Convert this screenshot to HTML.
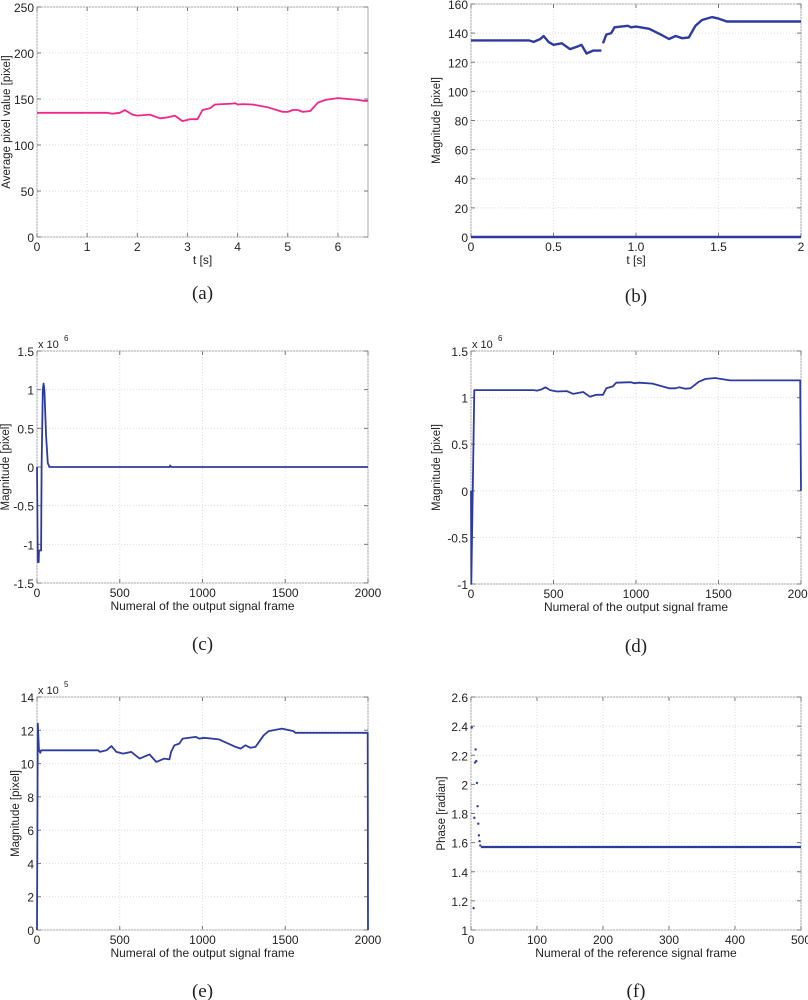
<!DOCTYPE html>
<html><head><meta charset="utf-8"><style>
body{margin:0;background:#fff;width:808px;height:1000px;overflow:hidden}
svg{display:block}
text{font-family:"Liberation Sans","IPAGothic",sans-serif;fill:#222}
.tk{font-size:12px}
.cap{font-family:"Liberation Serif",serif;font-size:19px}
</style></head><body>
<svg id="fig" width="808" height="1000"></svg>
<script>
// Panel (a)
const aX=[0,1,1.4,1.5,1.65,1.75,1.9,2.0,2.25,2.45,2.6,2.75,2.9,3.05,3.2,3.3,3.45,3.55,3.9,3.95,4.0,4.1,4.3,4.6,4.9,5.0,5.1,5.2,5.3,5.45,5.6,5.75,6.0,6.2,6.4,6.5,6.6];
const aY=[135,135,135,134,135,138,133,132,133,129,130,132,126,128,128,138,140,144,145,145.5,144,144.5,144,141,136,136,138,138,136,137,146,149,151,150,149,148,148];
// Panel (b)
const bX=[0,0.35,0.38,0.42,0.44,0.47,0.5,0.55,0.6,0.65,0.67,0.7,0.74,0.79];
const bY=[135,135,134,136,138,134,132,133,129,131,132,126,128,128];
const bX2=[0.8,0.82,0.85,0.87,0.95,0.97,1.0,1.08,1.15,1.2,1.24,1.28,1.32,1.36,1.4,1.46,1.5,1.55,2];
const bY2=[133,139,140,144,145,144,144.5,143,139,136,138,136.5,137,145,149,151,150,148,148];
const bZeroX=[0,2];
const bZeroY=[0,0];
// Panel (c) values in 1e6
const cX=[0,5,10,12,25,28,35,40,45,55,65,75,800,805,810,2000];
const cY=[0,-1.23,-1.23,-1.08,-1.08,0,1.0,1.08,1.0,0.4,0.05,0,0,0.02,0,0];
// Panel (d) values in 1e6
const dX=[0,2,20,380,400,430,450,480,520,580,620,680,720,760,800,820,860,880,970,990,1020,1100,1200,1240,1260,1300,1330,1380,1420,1480,1550,1570,1995,2000];
const dY=[0,-1,1.08,1.08,1.075,1.09,1.11,1.08,1.065,1.07,1.04,1.06,1.01,1.03,1.03,1.10,1.12,1.16,1.165,1.155,1.16,1.15,1.10,1.10,1.11,1.095,1.10,1.17,1.2,1.21,1.19,1.185,1.185,0];
// Panel (e) values in 1e5
const eX=[0,5,12,20,25,370,380,420,450,480,520,570,620,680,720,770,800,810,830,860,880,960,980,1010,1100,1200,1230,1260,1290,1320,1370,1400,1480,1550,1560,1998,2000];
const eY=[0,12.4,10.8,10.65,10.8,10.8,10.7,10.8,11.05,10.7,10.6,10.7,10.3,10.55,10.1,10.3,10.25,10.7,11.1,11.2,11.5,11.6,11.5,11.55,11.45,11.0,10.9,11.1,10.95,11.0,11.7,11.95,12.1,11.95,11.85,11.85,0];
// Panel (f)
const fX=[1,4,5,6,7,8,9,10,11,12,13,14];
const fY=[2.39,1.15,1.77,2.15,2.24,2.16,2.01,1.85,1.73,1.65,1.61,1.58];
const fLineX=[15,500];
const fLineY=[1.57,1.57];

const aTicksX=[0,1,2,3,4,5,6], aTicksY=[0,50,100,150,200,250];
const bTicksX=[0,0.5,1.0,1.5,2], bTickLabX=["0","0.5","1.0","1.5","2"], bTicksY=[0,20,40,60,80,100,120,140,160];
const cTicksX=[0,500,1000,1500,2000], cTicksY=[-1.5,-1,-0.5,0,0.5,1,1.5];
const dTicksY=[-1,-0.5,0,0.5,1,1.5];
const eTicksY=[0,2,4,6,8,10,12,14];
const fTicksX=[0,100,200,300,400,500], fTicksY=[1,1.2,1.4,1.6,1.8,2,2.2,2.4,2.6];

const NS="http://www.w3.org/2000/svg";
const svg=document.getElementById('fig');
function mk(tag,attrs,parent){const e=document.createElementNS(NS,tag);for(const k in attrs)e.setAttribute(k,attrs[k]);(parent||svg).appendChild(e);return e;}

function panel(id,P){
  const g=mk('g',{});
  
  
  const sx=v=>P.x0+(v-P.xmin)/(P.xmax-P.xmin)*(P.x1-P.x0);
  const sy=v=>P.y0-(v-P.ymin)/(P.ymax-P.ymin)*(P.y0-P.y1);
  const box=mk('rect',{x:P.x0,y:P.y1,width:P.x1-P.x0,height:P.y0-P.y1,fill:'#fff',stroke:'#aaa','stroke-width':1},g);
  
  
  P.tx.forEach((v,i)=>{
    const x=sx(v);
    mk('line',{x1:x,x2:x,y1:P.y1,y2:P.y0,stroke:'#ddd','stroke-dasharray':'1,2'},g);
    mk('line',{x1:x,x2:x,y1:P.y0,y2:P.y0-4,stroke:'#777'},g);
    mk('line',{x1:x,x2:x,y1:P.y1,y2:P.y1+4,stroke:'#777'},g);
    const t=mk('text',{x:x,y:P.y0+14,'text-anchor':'middle',class:'tk'},g);
    t.textContent=P.txl?P.txl[i]:String(v);
    
    
  });
  P.ty.forEach(v=>{
    const y=sy(v);
    mk('line',{x1:P.x0,x2:P.x1,y1:y,y2:y,stroke:'#ddd','stroke-dasharray':'1,2'},g);
    mk('line',{x1:P.x0,x2:P.x0+4,y1:y,y2:y,stroke:'#777'},g);
    mk('line',{x1:P.x1,x2:P.x1-4,y1:y,y2:y,stroke:'#777'},g);
    const t=mk('text',{x:P.x0-3,y:y+5,'text-anchor':'end',class:'tk'},g);
    t.textContent=String(v);
    
    
  });
  P.lines.forEach(L=>{
    const pts=L.x.map((v,i)=>sx(v).toFixed(1)+','+sy(L.y[i]).toFixed(1)).join(' ');
    const pl=mk('polyline',{points:pts,fill:'none',stroke:L.c,'stroke-width':L.w,'stroke-linejoin':'round'},g);
    
    
  });
  (P.dots||[]).forEach(D=>{
    D.x.forEach((v,i)=>{
      const c=mk('circle',{cx:sx(v),cy:sy(D.y[i]),r:1.2,fill:D.c},g);
      
      
    });
  });
  if(P.exp){
    const t=mk('text',{x:P.x0+1,y:P.y1-3,style:'font-size:11px'},g);
    t.textContent='x 10';
    
    
    const s=mk('text',{x:P.x0+27,y:P.y1-10,style:'font-size:8px'},g);
    s.textContent=P.exp;
    
    
  }
  const xl=mk('text',{x:(P.x0+P.x1)/2,y:P.y0+27,'text-anchor':'middle',style:'font-size:12px'},g);
  xl.textContent=P.xlab;
  
  
  const yc=(P.y0+P.y1)/2;
  const yl=mk('text',{x:P.ylx,y:yc,'text-anchor':'middle',transform:'rotate(-90 '+P.ylx+' '+yc+')',style:'font-size:11.5px'},g);
  yl.textContent=P.ylab;
  
  
  const cp=mk('text',{x:(P.x0+P.x1)/2,y:P.capy,'text-anchor':'middle',class:'cap'},g);
  cp.textContent='('+id+')';
  
  
}
const PINK='#f0268a', BLUE='#2e3b9e';
panel('a',{x0:37,x1:368,y0:237,y1:7,xmin:0,xmax:6.6,ymin:0,ymax:250,tx:aTicksX,ty:aTicksY,lines:[{x:aX,y:aY,c:PINK,w:1.8}],xlab:'t [s]',ylab:'Average pixel value [pixel]',ylx:10,capy:299});
panel('b',{x0:471,x1:801,y0:237,y1:4,xmin:0,xmax:2,ymin:0,ymax:160,tx:bTicksX,txl:bTickLabX,ty:bTicksY,lines:[{x:bX,y:bY,c:BLUE,w:2.4},{x:bX2,y:bY2,c:BLUE,w:2.4},{x:bZeroX,y:bZeroY,c:BLUE,w:2.4}],xlab:'t [s]',ylab:'Magnitude [pixel]',ylx:440,capy:302});
panel('c',{x0:37,x1:368,y0:583,y1:351,xmin:0,xmax:2000,ymin:-1.5,ymax:1.5,tx:cTicksX,ty:cTicksY,lines:[{x:cX,y:cY,c:BLUE,w:1.8}],xlab:'Numeral of the output signal frame',ylab:'Magnitude [pixel]',ylx:9,capy:650,exp:'6'});
panel('d',{x0:471,x1:801,y0:584,y1:351,xmin:0,xmax:2000,ymin:-1,ymax:1.5,tx:cTicksX,ty:dTicksY,lines:[{x:dX,y:dY,c:BLUE,w:1.8}],xlab:'Numeral of the output signal frame',ylab:'Magnitude [pixel]',ylx:440,capy:652,exp:'6'});
panel('e',{x0:37,x1:368,y0:930,y1:697,xmin:0,xmax:2000,ymin:0,ymax:14,tx:cTicksX,ty:eTicksY,lines:[{x:eX,y:eY,c:BLUE,w:1.8}],xlab:'Numeral of the output signal frame',ylab:'Magnitude [pixel]',ylx:19,capy:997,exp:'5'});
panel('f',{x0:471,x1:801,y0:930,y1:697,xmin:0,xmax:500,ymin:1,ymax:2.6,tx:fTicksX,ty:fTicksY,lines:[{x:fLineX,y:fLineY,c:BLUE,w:2.2}],dots:[{x:fX,y:fY,c:BLUE}],xlab:'Numeral of the reference signal frame',ylab:'Phase [radian]',ylx:445,capy:997});
</script>
</body></html>
